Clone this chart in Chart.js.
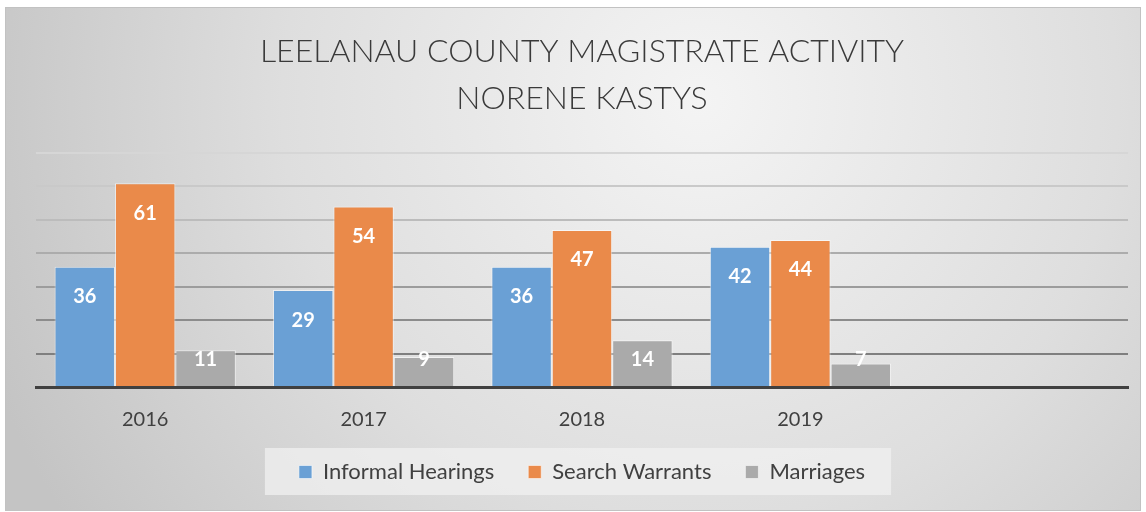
<!DOCTYPE html>
<html>
<head>
<meta charset="utf-8">
<script src="https://cdn.jsdelivr.net/npm/chart.js@4"></script>
<style>
    html, body { margin: 0; padding: 0; background: #fff; }
    #wrap { width: 1146px; height: 512px; position: relative; }
</style>
</head>
<body>
<div id="wrap"><canvas id="magChart"></canvas></div>
<script>
const years = ['2016', '2017', '2018', '2019', ''];
const informalHearings = [36, 29, 36, 42, null];
const searchWarrants = [61, 54, 47, 44, null];
const marriages = [11, 9, 14, 7, null];
const yTicks = [0, 10, 20, 30, 40, 50, 60, 70];

const gridColors = ['#444', '#7f7f7f', '#8c8c8c', '#9c9c9c', '#acacac', '#bcbcbc', '#c9c9c9', '#d6d6d6'];

// gradient card + legend panel, drawn before everything else
const cardBackground = {
    id: 'cardBackground',
    beforeDraw(chart) {
        const { ctx, width, height } = chart;
        ctx.save();
        ctx.fillStyle = '#fff';
        ctx.fillRect(0, 0, width, height);
        const g = ctx.createRadialGradient(700, 100, 0, 700, 100, 760);
        g.addColorStop(0, '#f4f4f4');
        g.addColorStop(0.55, '#dedede');
        g.addColorStop(1, '#c4c4c4');
        ctx.fillStyle = g;
        ctx.fillRect(5, 7, width - 10, height - 9);
        ctx.strokeStyle = '#c2c2c2';
        ctx.lineWidth = 1;
        ctx.strokeRect(5.5, 7.5, width - 11, height - 9);

        const boxes = chart.legend.legendHitBoxes;
        if (boxes && boxes.length) {
            const left = Math.min(...boxes.map(b => b.left)) - 34;
            const right = Math.max(...boxes.map(b => b.left + b.width)) + 26;
            const top = boxes[0].top - 13;
            const bottom = boxes[0].top + boxes[0].height + 12;
            ctx.fillStyle = 'rgba(240,240,240,0.75)';
            ctx.fillRect(left, top, right - left, bottom - top);
        }
        ctx.restore();
    }
};

// white values inside the bar tops
const barValues = {
    id: 'barValues',
    afterDatasetsDraw(chart) {
        const { ctx } = chart;
        ctx.save();
        ctx.fillStyle = '#fff';
        ctx.font = 'bold 20px Lato';
        ctx.textAlign = 'center';
        ctx.textBaseline = 'middle';
        chart.data.datasets.forEach((ds, i) => {
            chart.getDatasetMeta(i).data.forEach((bar, j) => {
                const v = ds.data[j];
                if (v == null) return;
                const y = Math.min(bar.y + 30, bar.base - 26);
                ctx.fillText(String(v), bar.x, y);
            });
        });
        ctx.restore();
    }
};

const ctx = document.getElementById('magChart').getContext('2d');
new Chart(ctx, {
    type: 'bar',
    data: {
        labels: years,
        datasets: [
            { label: 'Informal Hearings', data: informalHearings, backgroundColor: '#6aa0d5', borderColor: 'rgba(255,255,255,0.55)', borderWidth: 1 },
            { label: 'Search Warrants', data: searchWarrants, backgroundColor: '#ea8a4a', borderColor: 'rgba(255,255,255,0.55)', borderWidth: 1 },
            { label: 'Marriages', data: marriages, backgroundColor: '#aaaaaa', borderColor: 'rgba(255,255,255,0.55)', borderWidth: 1 }
        ]
    },
    options: {
        responsive: true,
        maintainAspectRatio: false,
        animation: false,
        datasets: { bar: { categoryPercentage: 0.83, barPercentage: 1 } },
        layout: { padding: { left: 36, right: 18, top: 0, bottom: 19 } },
        scales: {
            x: {
                grid: { display: false },
                border: { color: '#404040', width: 3 },
                ticks: { color: '#404040', font: { family: 'Lato', size: 20 }, padding: 13 },
                afterFit: axis => { axis.height = 40; }
            },
            y: {
                min: 0,
                max: 70,
                afterBuildTicks: axis => { axis.ticks = yTicks.map(v => ({ value: v })); },
                ticks: { display: false },
                border: { display: false },
                grid: {
                    drawTicks: false,
                    lineWidth: 2,
                    color: c => gridColors[c.index] || '#ccc'
                }
            }
        },
        plugins: {
            title: {
                display: true,
                text: ['LEELANAU COUNTY MAGISTRATE ACTIVITY', 'NORENE KASTYS'],
                color: '#3a3a3a',
                font: { family: 'Lato', size: 32, weight: '300', lineHeight: 1.47 },
                padding: { top: 28, bottom: 31 }
            },
            legend: {
                position: 'bottom',
                labels: {
                    color: '#404040',
                    font: { family: 'Lato', size: 22 },
                    boxWidth: 13,
                    boxHeight: 13,
                    padding: 34
                }
            },
            tooltip: { enabled: false }
        }
    },
    plugins: [cardBackground, barValues]
});
</script>
</body>
</html>
